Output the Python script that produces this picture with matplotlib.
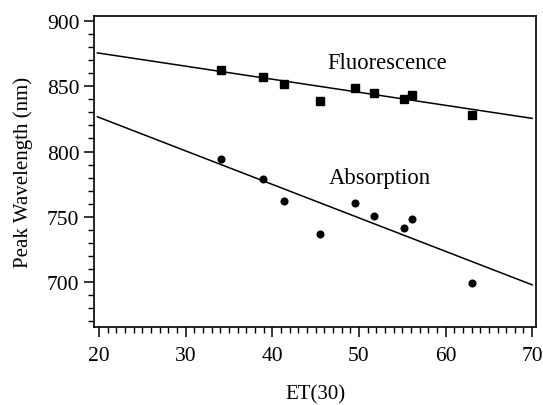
import matplotlib
matplotlib.use("Agg")
import matplotlib.pyplot as plt
from matplotlib.ticker import MultipleLocator

# ET(30) solvent polarity values and peak wavelengths (nm)
et30 = [34.1, 38.9, 41.3, 45.5, 49.5, 51.7, 55.2, 56.1, 63.1]
fluorescence = [862.3, 857.0, 852.0, 839.0, 849.0, 844.5, 840.0, 843.0, 827.7]
absorption = [794.5, 779.0, 762.5, 737.0, 761.0, 750.5, 741.5, 748.5, 699.7]

# linear fit lines (end points)
fit_x = [19.8, 70.0]
fluor_fit = [875.5, 825.4]
abs_fit = [826.6, 698.0]

plt.rcParams['font.family'] = ['Liberation Serif', 'DejaVu Serif']

fig = plt.figure(figsize=(5.43, 4.06), dpi=100)
ax = fig.add_axes([0.173, 0.193, 0.815, 0.766])

ax.plot(fit_x, fluor_fit, color='black', lw=1.1)
ax.plot(fit_x, abs_fit, color='black', lw=1.1)
ax.plot(et30, fluorescence, 's', color='black', ms=5.5)
ax.plot(et30, absorption, 'o', color='black', ms=4.8)

ax.text(53.3, 868, 'Fluorescence', fontsize=16.3, ha='center', va='center')
ax.text(52.4, 780, 'Absorption', fontsize=16.3, ha='center', va='center')

ax.set_xlim(19.4, 70.5)
ax.set_ylim(666, 904)
ax.xaxis.set_major_locator(MultipleLocator(10))
ax.xaxis.set_minor_locator(MultipleLocator(1))
ax.yaxis.set_major_locator(MultipleLocator(50))
ax.yaxis.set_minor_locator(MultipleLocator(10))
ax.tick_params(which='major', direction='out', length=7, width=1.1, labelsize=15.5)
ax.tick_params(axis='x', which='major', pad=7)
ax.tick_params(which='minor', direction='out', length=4, width=1.0)
for s in ax.spines.values():
    s.set_linewidth(1.2)

ax.set_xlabel('ET(30)', fontsize=15, labelpad=14)
ax.set_ylabel('Peak Wavelength (nm)', fontsize=15, labelpad=10)

fig.savefig('out.png', dpi=100)
